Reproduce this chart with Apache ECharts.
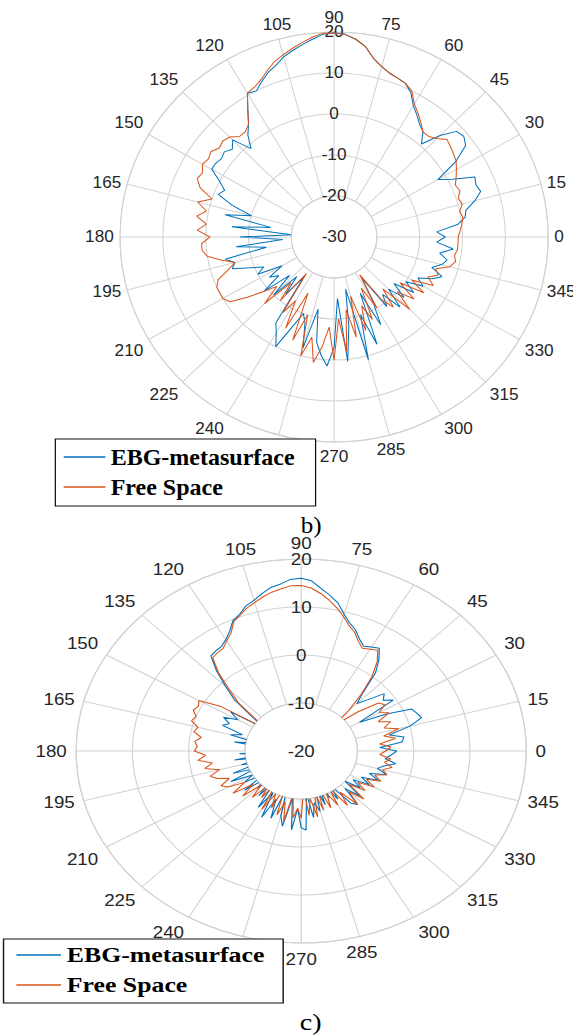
<!DOCTYPE html>
<html><head><meta charset="utf-8">
<script src="https://cdn.jsdelivr.net/npm/echarts@6/dist/echarts.min.js"></script>
<style>
html,body{margin:0;padding:0;background:#fff;width:573px;height:1035px;overflow:hidden;position:relative}
#chartB{position:absolute;left:0;top:0;width:549px;height:545px;transform:scaleX(1.044);transform-origin:0 0}
#chartC{position:absolute;left:0;top:500px;width:489px;height:535px;transform:scaleX(1.172);transform-origin:0 0}
</style></head><body>
<div id="chartB"></div><div id="chartC"></div>
<script>
// measurement angles (degrees)
const angles = [0,3,6,9,12,15,18,21,24,27,30,33,36,39,42,45,48,51,54,57,60,63,66,69,72,75,78,81,84,87,
90,93,96,99,102,105,108,111,114,117,120,123,126,129,132,135,138,141,144,147,150,153,156,159,162,165,168,171,174,177,
180,183,186,189,192,195,198,201,204,207,210,213,216,219,222,225,228,231,234,237,240,243,246,249,252,255,258,261,264,267,
270,273,276,279,282,285,288,291,294,297,300,303,306,309,312,315,318,321,324,327,330,333,336,339,342,345,348,351,354,357];

const seriesNames = ['EBG-metasurface', 'Free Space'];

// b) gain (dB)
const ebgB = [-4,-6,-1,1,1.5,4,6,5.5,6,1,
-2,4,8,9,8.5,5,0.5,3,4,5.5,
7,9.5,11,11.5,12,13,14.5,17,18.5,19.5,
19.8,19.5,18.5,17.5,16.5,15.5,14,13,11.5,10,
10.5,7,4,2,-1,3.5,2,3,2.5,3,
3,0,-2,-1,-5,-10,-4,-15,-6,-20,
-8,-18,-7,-14,-4,-6,-5,-9,-12,-10,
-16,-12,-14,-9,-16,-10,-17,-12,-18,-5,
-3,0,-6,-10,-8,-2,-12,-4,-1,1.5,
-3,-15,0.5,-8,-17,1,-10,-2,-15,-6,
-12,-18,-9,-12,-7,-12,-8,-12,-7,-10,
-6,-8,-5,-3,-6,-4,-3,-5,-2,-6];
const freeB = [-1,-0.5,0,0.5,0,1,0.5,1.5,1,2,
3,4,4.5,5,5.5,4,3,3,4.5,6,
7.5,10,11,11.5,12,13,14.5,17,18.5,19.5,
19.7,19.8,19,18,17,16,15,13.5,12,11,
10.5,7,4,3,3,4.5,5,4.5,5.5,5,
5.5,4.5,5,3.5,0,3,0.5,2.5,0,2,
-1,1,1,0,-3,-6,-4,-1,0,0,
0,-1,-5,-9,-12,-7,-15,-10,-19,-8,
-12,-5,-15,-3,-10,0,-5,1,-3,-8,
0,-10,-2,-12,-5,-15,-6,-12,-8,-16,
-10,-19,-11,-8,-13,-5,-10,-6,-11,-5,
-9,-4,-6,-4,-5,-2,-1,-1.5,-1,-1];

// c) gain (dB)
const ebgC = [-3,-6,-2,-1.5,-4,0,2.5,2,1.5,-3,
-8,-0.5,-2,-1,-4,-6,-3.5,1,3.5,5.5,
5,4.5,5.5,7,8,9.5,11.5,12.8,14,15.5,
16,15.8,15,14.5,13.5,12.5,11.8,10.5,9.8,8,
6.8,6,5.8,5.5,2.5,-1,-4,-9,-12,-5,
-7,-4.5,-6,-5,-9,-7,-12,-8,-14,-10,
-15,-9,-13,-8,-14,-9,-12,-7,-11,-6,
-10,-8,-12,-7,-11,-9,-13,-8,-12,-6,
-10,-4.5,-9,-5,-12,-6,-4,-10,-3.5,-8,
-4,-3.5,-11,-6,-9,-7,-12,-8,-13,-9,
-12,-8,-11,-6,-5,-9,-6,-10,-7,-9,
-6,-8,-5,-7,-4,-6,-5,-3,-5,-4];
const freeC = [-5,-4,-6,-3,-5,-2,-4.5,-3,-5,-2.5,
-4,-2.3,-3,-7,-12,-8,-4,0,3,5,
4.5,4,5,6.5,7.5,9,10.5,11.8,13,14,
14.5,14.5,14,13.5,12.8,12,11.3,10.3,9.5,7.5,
6.5,5.5,5.3,5,2,-2,-5,-10,-12,-3,
1,0.5,1,0,0.5,-1,-0.5,-2,-1,-1.5,
-1,-3,-1.5,-4,-2.5,-5,-3,-4,-6,-4,
-5,-8,-5,-9,-6,-10,-7,-11,-8,-12,
-6,-10,-7,-12,-6,-9,-5,-11,-6,-8,
-6,-12,-6.5,-10,-6,-11,-7,-13,-7,-10,
-7,-11,-6,-9,-5,-8,-5,-9,-6,-8,
-5,-7,-4.5,-6,-4,-5,-3.5,-5,-4,-6];

// radial axis ranges (dB) : [centre, innerRing, outer]
const rangeB = [-30, -20, 20];
const rangeC = [-20, -10, 20];
const captions = ['b)', 'c)'];

const BLUE = '#0072BD', ORANGE = '#D95319', GRID = '#d2d2d2', TXT = '#262626';

function toPolar(vals) {
  // angle axis runs 90..450 so that 90 sits at the top; 0..89 are mapped to 360..449
  const d = angles.map((a, i) => [vals[i], a < 90 ? a + 360 : a]);
  d.push(d[0]);
  return d;
}

function makeOption(c) {
  return {
    animation: false,
    backgroundColor: 'transparent',
    polar: { center: c.center, radius: [c.inner, c.outer] },
    angleAxis: {
      type: 'value', min: 90, max: 450, interval: 15, startAngle: 90, clockwise: false,
      axisLine: { show: true, lineStyle: { color: GRID, width: 1 } },
      axisTick: { show: false },
      axisLabel: { margin: c.labMargin, color: TXT, fontSize: c.fs, fontFamily: 'Liberation Sans',
        formatter: v => (v >= 450 ? '' : String(v % 360)) },
      splitLine: { show: true, lineStyle: { color: GRID, width: 1 } }
    },
    radiusAxis: {
      type: 'value', min: c.range[1], max: c.range[2], interval: 10,
      axisLine: { show: false }, axisTick: { show: false },
      axisLabel: { margin: 0, align: 'center', verticalAlign: 'middle', padding: [8, 0, 0, 0],
        color: TXT, fontSize: c.fs, fontFamily: 'Liberation Sans' },
      splitLine: { show: true, lineStyle: { color: GRID, width: 1 } }
    },
    legend: {
      orient: 'vertical', left: c.legLeft, top: c.legTop, padding: c.legPad,
      icon: 'rect', itemWidth: c.iconW, itemHeight: 1.3, itemGap: 4,
      backgroundColor: '#fff', borderColor: '#111', borderWidth: 1.2,
      textStyle: { fontFamily: 'Liberation Serif', fontWeight: 'bold', fontSize: c.legFs, color: '#000', lineHeight: 26 },
      data: seriesNames
    },
    graphic: [
      { type: 'text', x: c.center[0], y: c.center[1], z: 5,
        style: { text: String(c.range[0]), font: c.fs + 'px "Liberation Sans"', fill: TXT,
          textAlign: 'center', textVerticalAlign: 'middle', align: 'center', verticalAlign: 'middle' } },
      { type: 'text', x: c.capX, y: c.capY, z: 5,
        style: { text: c.caption, font: '24px "Liberation Serif"', fill: '#000',
          textAlign: 'center', textVerticalAlign: 'middle', align: 'center', verticalAlign: 'middle' } }
    ],
    series: [
      { name: seriesNames[0], type: 'line', coordinateSystem: 'polar', data: toPolar(c.ebg),
        symbol: 'none', clip: false, lineStyle: { color: BLUE, width: 1 }, itemStyle: { color: BLUE } },
      { name: seriesNames[1], type: 'line', coordinateSystem: 'polar', data: toPolar(c.free),
        symbol: 'none', clip: false, lineStyle: { color: ORANGE, width: 1 }, itemStyle: { color: ORANGE } }
    ]
  };
}

const chartB = echarts.init(document.getElementById('chartB'), null, { renderer: 'svg' });
chartB.setOption(makeOption({
  center: [320, 237], inner: 41, outer: 205, range: rangeB, fs: 16.5, labMargin: 6,
  legLeft: 53, legTop: 439, legPad: [5, 20, 6, 8], iconW: 40, legFs: 23,
  caption: captions[0], capX: 298, capY: 525, ebg: ebgB, free: freeB
}));

const chartC = echarts.init(document.getElementById('chartC'), null, { renderer: 'svg' });
chartC.setOption(makeOption({
  center: [257, 251], inner: 48, outer: 192, range: rangeC, fs: 16, labMargin: 8,
  legLeft: 3, legTop: 439, legPad: [3, 16, 5, 11], iconW: 38, legFs: 22,
  caption: captions[1], capX: 265, capY: 522, ebg: ebgC, free: freeC
}));
</script></body></html>
